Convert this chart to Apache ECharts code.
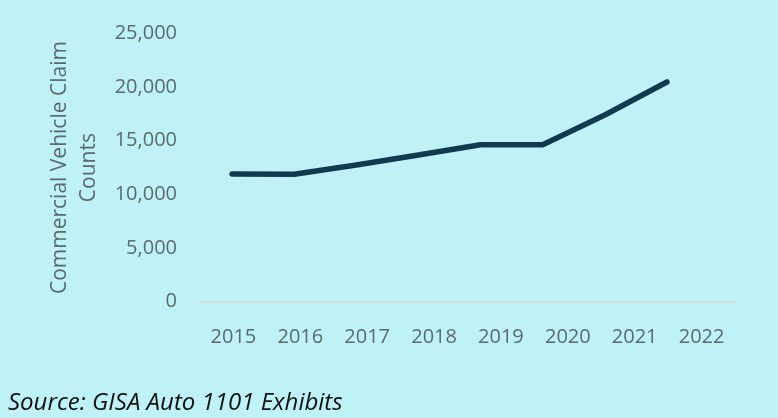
<!DOCTYPE html>
<html>
<head>
<meta charset="utf-8">
<script src="https://cdn.jsdelivr.net/npm/echarts@6/dist/echarts.min.js"></script>
<style>
  html, body { margin: 0; padding: 0; background: #bff2f7; }
  #lineChart { width: 778px; height: 418px; }
</style>
</head>
<body>
<div id="lineChart"></div>
<script>
const years = ['2015', '2016', '2017', '2018', '2019', '2020', '2021', '2022']
const claimCounts = [11900, 11880, 12740, 13670, 14630, 14630, 17400, 20480]
const yTicks = [0, 5000, 10000, 15000, 20000, 25000]

const font = '"Open Sans", "Segoe UI", sans-serif'
const textColor = '#5b6b6c'

let charts = echarts.init(document.getElementById('lineChart'))
let options = {
  backgroundColor: '#bff2f7',
  animation: false,
  grid: [
    { left: 200, right: 43, top: 33.5, bottom: 116.3 },
    { left: 201, right: 80, top: 33.5, bottom: 116.3 }
  ],
  xAxis: [
    {
      type: 'category',
      gridIndex: 0,
      data: years,
      boundaryGap: true,
      axisLine: { lineStyle: { color: '#d9d9d9', width: 2 } },
      axisTick: { show: false },
      axisLabel: { color: textColor, fontSize: 20, fontFamily: font, margin: 26 }
    },
    {
      type: 'category',
      gridIndex: 1,
      data: years,
      boundaryGap: true,
      show: false
    }
  ],
  yAxis: [
    {
      type: 'value',
      gridIndex: 0,
      min: yTicks[0],
      max: yTicks[yTicks.length - 1],
      interval: 5000,
      axisLine: { show: false },
      axisTick: { show: false },
      splitLine: { show: false },
      axisLabel: {
        color: textColor,
        fontSize: 20,
        fontFamily: font,
        margin: 23,
        formatter: v => v.toLocaleString('en-US')
      },
      name: 'Commercial Vehicle Claim\nCounts',
      nameLocation: 'middle',
      nameGap: 92,
      nameRotate: 90,
      nameTextStyle: { color: textColor, fontSize: 21, fontFamily: font, lineHeight: 29 }
    },
    {
      type: 'value',
      gridIndex: 1,
      min: yTicks[0],
      max: yTicks[yTicks.length - 1],
      interval: 5000,
      show: false
    }
  ],
  graphic: [
    {
      type: 'text',
      left: 8,
      top: 391,
      style: {
        text: 'Source: GISA Auto 1101 Exhibits',
        fill: '#111111',
        font: 'italic 24px "Open Sans", sans-serif'
      }
    }
  ],
  series: [
    {
      name: 'Commercial Vehicle Claim Counts',
      type: 'line',
      xAxisIndex: 1,
      yAxisIndex: 1,
      data: claimCounts,
      showSymbol: false,
      lineStyle: { color: '#0e3c4e', width: 5.5, cap: 'round', join: 'round' }
    }
  ]
}
charts.setOption(options)
</script>
</body>
</html>
